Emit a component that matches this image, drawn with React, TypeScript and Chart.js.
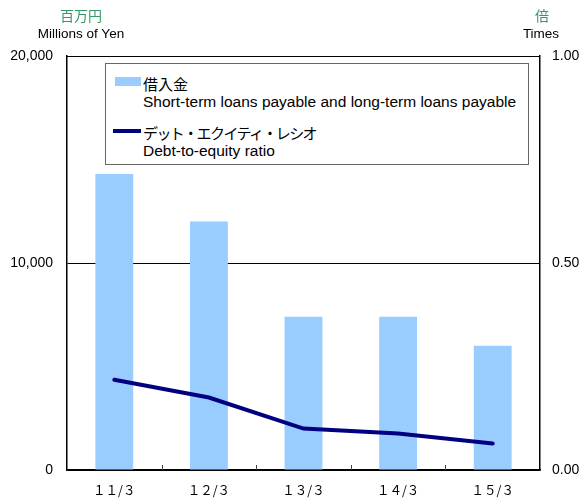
import React, { useEffect, useRef } from "react";
import { Chart, registerables } from "chart.js";

Chart.register(...registerables);

const categories = ["１１/３", "１２/３", "１３/３", "１４/３", "１５/３"];
const loans = [14300, 12000, 7400, 7400, 6000];
const debtEquity = [0.218, 0.175, 0.1, 0.088, 0.064];
const leftTicks = [0, 10000, 20000];
const rightTicks = [0, 0.5, 1];

const LATIN = '"Liberation Sans", Arial, sans-serif';
const JP = '"Noto Sans CJK JP", "Liberation Sans", sans-serif';
const GREEN = "#339966";

const innerTicks = {
  id: "innerTicks",
  afterDraw(chart: any) {
    const { ctx, chartArea } = chart;
    const xs = chart.scales.x;
    ctx.save();
    ctx.strokeStyle = "#000";
    ctx.lineWidth = 1;
    ctx.beginPath();
    ctx.moveTo(chartArea.left, chartArea.top + 0.5);
    ctx.lineTo(chartArea.right, chartArea.top + 0.5);
    ctx.stroke();
    ctx.strokeStyle = "#444";
    for (let i = 0; i < categories.length - 1; i++) {
      const x = Math.round((xs.getPixelForTick(i) + xs.getPixelForTick(i + 1)) / 2) + 0.5;
      ctx.beginPath();
      ctx.moveTo(x, chartArea.bottom);
      ctx.lineTo(x, chartArea.bottom - 5);
      ctx.stroke();
    }
    ctx.restore();
  },
};

export default function App() {
  const ref = useRef<HTMLCanvasElement>(null);
  useEffect(() => {
    const chart = new Chart(ref.current!, {
      type: "bar",
      data: {
        labels: categories,
        datasets: [
          {
            type: "line",
            label: "デット・エクイティ・レシオ",
            data: debtEquity,
            yAxisID: "y1",
            borderColor: "#000080",
            borderWidth: 4,
            pointRadius: 0,
            tension: 0,
            borderCapStyle: "round",
            order: 1,
          } as any,
          {
            type: "bar",
            label: "借入金",
            data: loans,
            yAxisID: "y",
            backgroundColor: "#99ccff",
            categoryPercentage: 1,
            barPercentage: 0.4,
            order: 2,
          },
        ],
      },
      options: {
        animation: false,
        responsive: true,
        maintainAspectRatio: false,
        layout: { padding: { top: 56, left: 0, right: 0, bottom: 0 } },
        plugins: { legend: { display: false }, tooltip: { enabled: false } },
        scales: {
          x: {
            grid: { display: false, drawTicks: false },
            border: { display: true, color: "#000", width: 1.5 },
            ticks: { color: "#000", font: { family: JP, size: 12.5 }, padding: 13 },
            afterFit(s: any) {
              s.height = 33;
            },
          },
          y: {
            position: "left",
            min: 0,
            max: 20000,
            afterBuildTicks(s: any) {
              s.ticks = leftTicks.map((v) => ({ value: v }));
            },
            ticks: {
              color: "#000",
              font: { family: LATIN, size: 14 },
              padding: 14,
              callback: (v: any) => Number(v).toLocaleString("en-US"),
            },
            grid: { color: "#000", lineWidth: 1, drawTicks: false },
            border: { display: true, color: "#000", width: 1.5 },
            afterFit(s: any) {
              s.width = 67;
            },
          },
          y1: {
            position: "right",
            min: 0,
            max: 1,
            afterBuildTicks(s: any) {
              s.ticks = rightTicks.map((v) => ({ value: v }));
            },
            ticks: {
              color: "#000",
              font: { family: LATIN, size: 14 },
              padding: 12,
              callback: (v: any) => Number(v).toFixed(2),
            },
            grid: { drawOnChartArea: false, drawTicks: false },
            border: { display: true, color: "#000", width: 1.5 },
            afterFit(s: any) {
              s.width = 42;
            },
          },
        },
      },
      plugins: [innerTicks],
    });
    return () => chart.destroy();
  }, []);

  const abs = (o: React.CSSProperties): React.CSSProperties => ({ position: "absolute", whiteSpace: "nowrap", ...o });

  return (
    <div style={{ position: "fixed", left: 0, top: 0, width: 582, height: 503, background: "#fff" }}>
      <canvas ref={ref} style={{ position: "absolute", left: 0, top: 0 }} />
      <div style={abs({ left: 81, top: 15, transform: "translate(-50%,-50%)", color: GREEN, font: `14px ${JP}` })}>百万円</div>
      <div style={abs({ left: 81, top: 33, transform: "translate(-50%,-50%)", color: "#000", font: `13.5px ${LATIN}` })}>Millions of Yen</div>
      <div style={abs({ left: 542, top: 15, transform: "translate(-50%,-50%)", color: GREEN, font: `14px ${JP}` })}>倍</div>
      <div style={abs({ left: 541, top: 33, transform: "translate(-50%,-50%)", color: "#000", font: `13.5px ${LATIN}` })}>Times</div>
      <div
        style={abs({
          left: 105,
          top: 63,
          width: 422,
          height: 100,
          border: "1px solid #666",
          background: "#fff",
        })}
      />
      <div style={abs({ left: 115, top: 77, width: 26, height: 9, background: "#99ccff" })} />
      <div style={abs({ left: 143, top: 83, transform: "translateY(-50%)", color: "#000", font: `15px ${JP}` })}>借入金</div>
      <div style={abs({ left: 143, top: 102, transform: "translateY(-50%)", color: "#000", font: `15.5px ${LATIN}` })}>
        Short-term loans payable and long-term loans payable
      </div>
      <div style={abs({ left: 113, top: 129, width: 28, height: 4, background: "#000080" })} />
      <div
        style={abs({
          left: 143,
          top: 132,
          transform: "translateY(-50%)",
          color: "#000",
          font: `15px ${JP}`,
          letterSpacing: "-1.6px",
        })}
      >
        デット・エクイティ・レシオ
      </div>
      <div style={abs({ left: 143, top: 151, transform: "translateY(-50%)", color: "#000", font: `15.5px ${LATIN}` })}>
        Debt-to-equity ratio
      </div>
      <div style={{ width: 582, height: 503 }} />
    </div>
  );
}
